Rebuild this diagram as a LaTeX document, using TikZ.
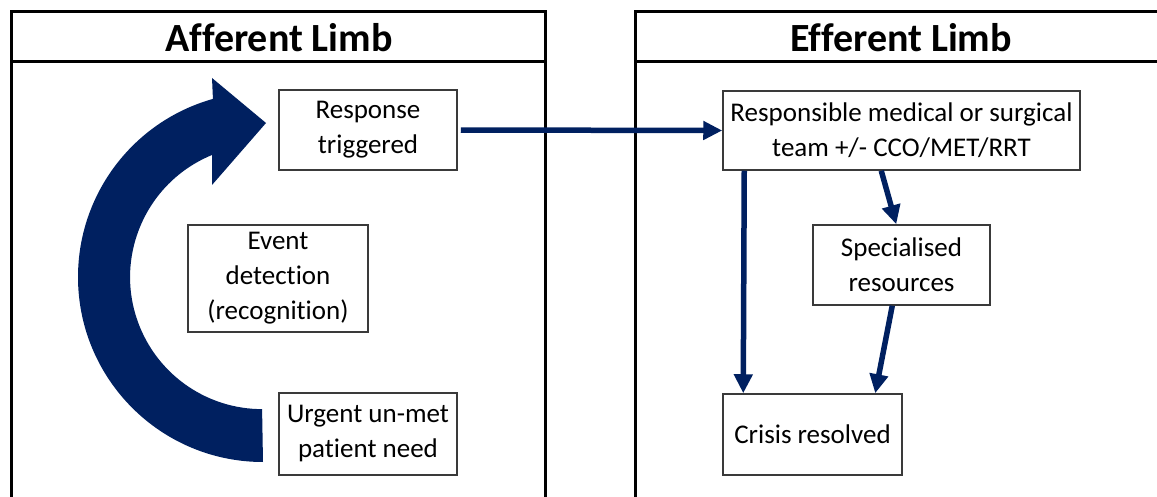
\documentclass[tikz,border=0pt]{standalone}
\usepackage{fontspec}
\setmainfont{Carlito}[Ligatures={NoCommon}]
\usetikzlibrary{arrows.meta}
\definecolor{navy}{HTML}{002060}
\definecolor{boxline}{HTML}{3A3A3A}
\tikzset{
  panel/.style={line width=3pt, black},
  boxnode/.style={draw=boxline, line width=1.5pt, fill=white, align=center,
    inner sep=0pt, font=\fontsize{27}{35}\selectfont},
  header/.style={font=\fontsize{40}{44}\selectfont\bfseries},
  flow/.style={navy, line width=5.5pt, -{Triangle[length=19pt,width=18pt]}}
}
\begin{document}
\begin{tikzpicture}[x=1pt,y=-1pt]
\useasboundingbox (0,0) rectangle (1157,497);
% panels
\draw[panel] (11,500) -- (11,12) -- (545,12) -- (545,500);
\draw[panel] (11,62) -- (545,62);
\draw[panel] (635,500) -- (635,12) -- (1162,12);
\draw[panel] (635,62) -- (1162,62);
\node[header] (hA) at (279,38) {Afferent Limb};
\node[header] (hE) at (901,38) {Efferent Limb};
% big curved arrow
\fill[navy] (263,462) arc[start angle=90,end angle=254.3,radius=185]
  -- (212,78) -- (266,123) -- (212,185) -- (212,155)
  arc[start angle=247.7,end angle=90,radius=132] -- cycle;
% boxes
\node[boxnode, minimum width=178pt, minimum height=80pt] (resp) at (368,130) {Response\\triggered};
\node[boxnode, minimum width=180pt, minimum height=107pt] (event) at (278,278.5) {Event\\detection\\(recognition)};
\node[boxnode, minimum width=178pt, minimum height=82pt] (urgent) at (368,434) {Urgent un-met\\patient need};
\node[boxnode, minimum width=357pt, minimum height=79pt] (team) at (901.5,130.5) {Responsible medical or surgical\\team +/- CCO/MET/RRT};
\node[boxnode, minimum width=177pt, minimum height=80pt] (spec) at (901.5,265) {Specialised\\resources};
\node[boxnode, minimum width=179pt, minimum height=81pt] (crisis) at (812.5,434.5) {Crisis resolved};
% connectors
\draw[flow, shorten <=3pt] (resp.east) -- (team.west);
\draw[flow] ([xshift=22pt]team.south west) -- ([xshift=21pt]crisis.north west);
\draw[flow] ([xshift=159pt]team.south west) -- ([xshift=84pt]spec.north west);
\draw[flow] ([xshift=80pt]spec.south west) -- ([xshift=153pt]crisis.north west);
\end{tikzpicture}
\end{document}
